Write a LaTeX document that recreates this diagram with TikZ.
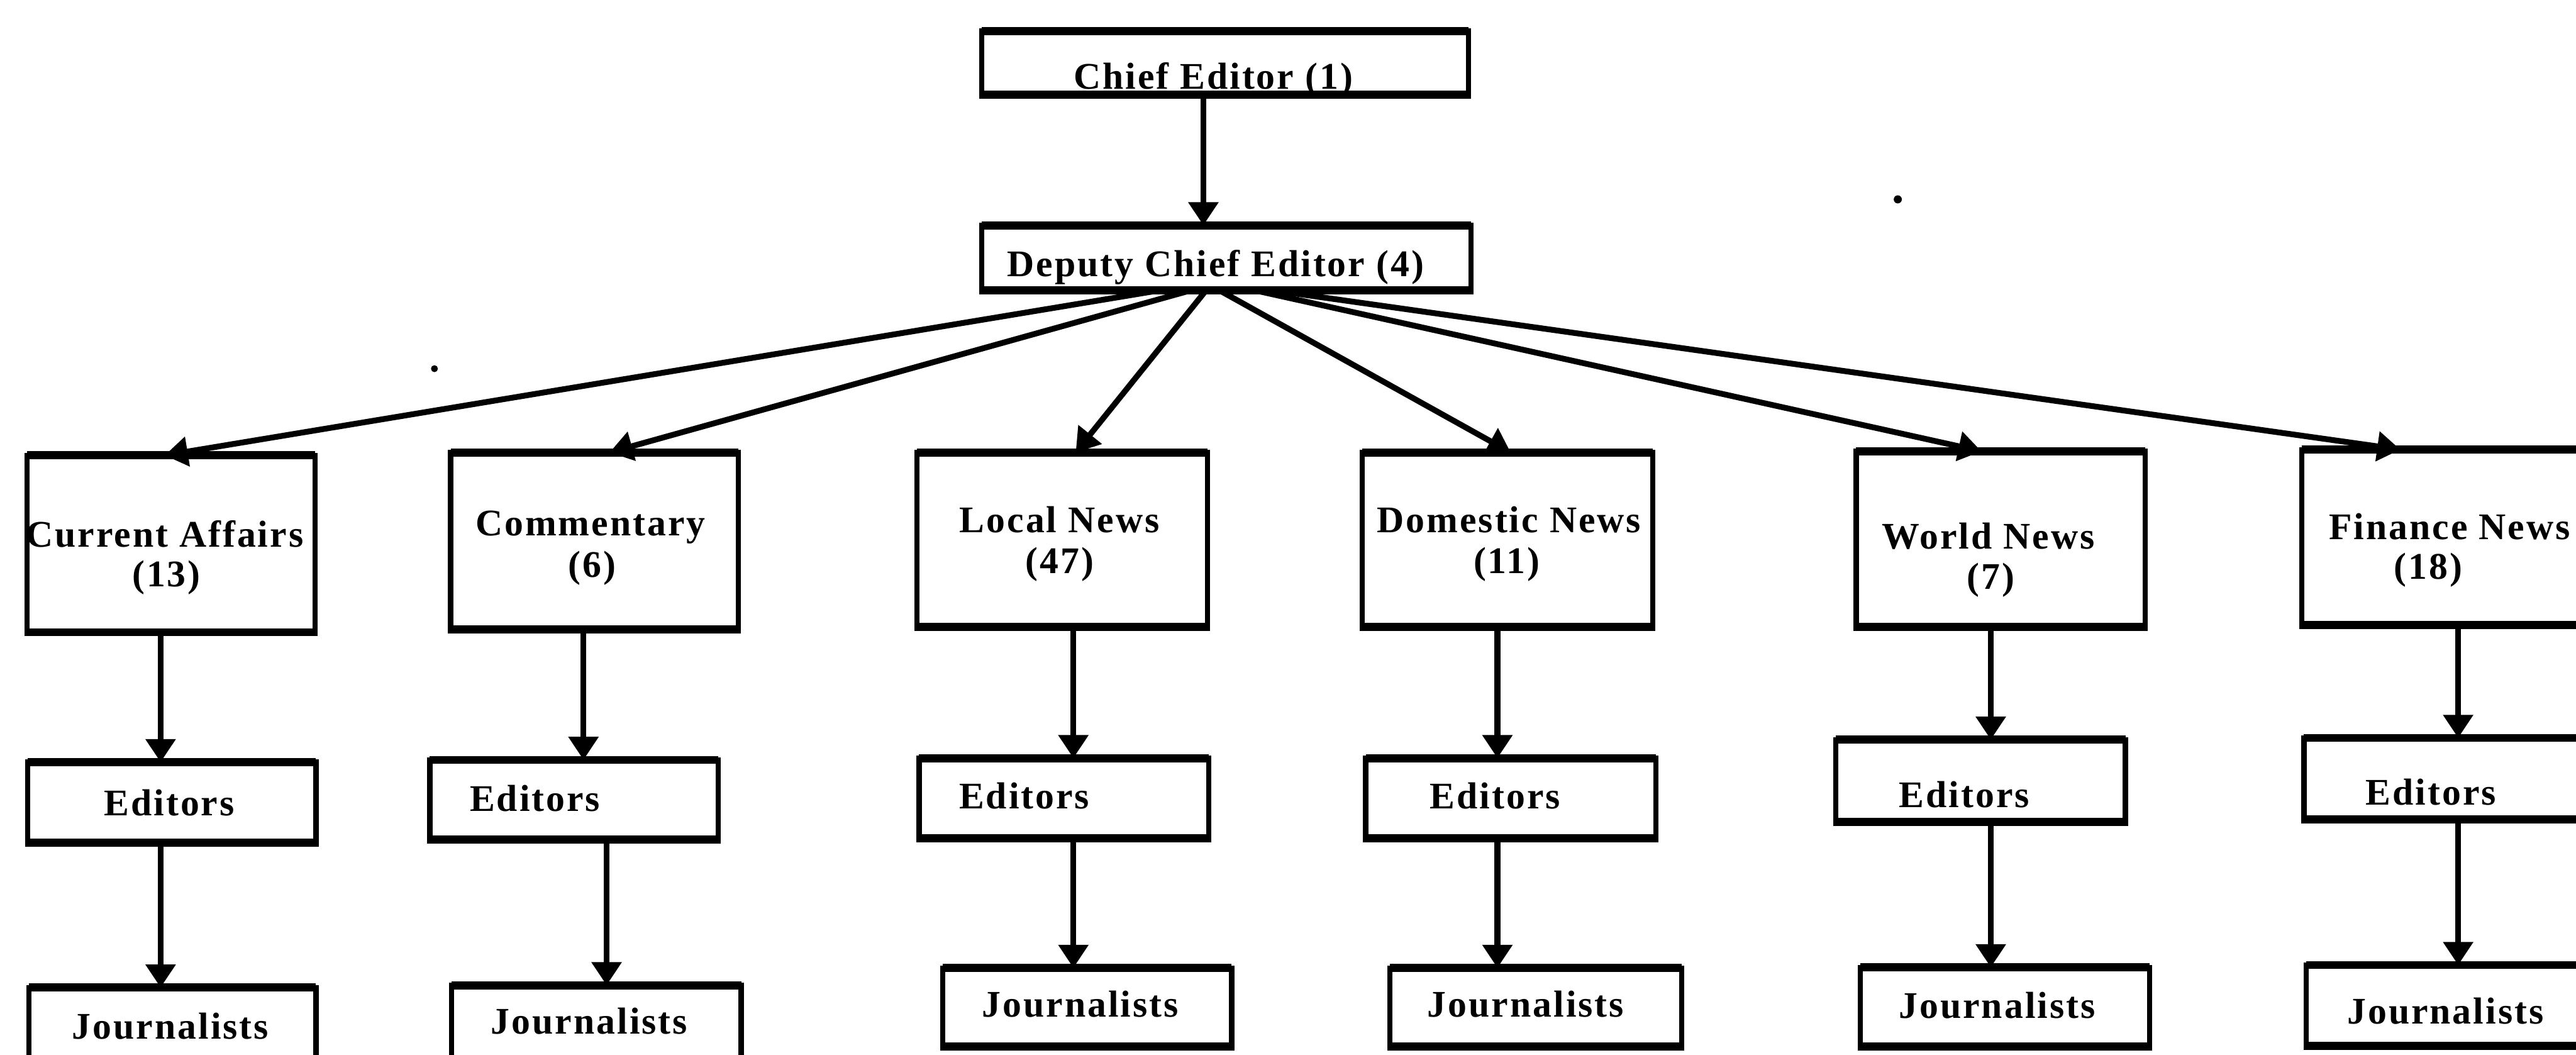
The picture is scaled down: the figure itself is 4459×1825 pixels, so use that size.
\documentclass[tikz,border=0pt]{standalone}
\usepackage{fontspec}
\setmainfont{Liberation Serif}[LetterSpace=5]
\usetikzlibrary{arrows.meta}

% box: name, left, right, top, bottom (pixel units, y grows downwards)
\newcommand\mkbox[5]{%
  \node[box, minimum width={(#3-#2)*0.01cm}, minimum height={(#5-#4)*0.01cm}]
    (#1) at ({(#2+#3)/2},{(#4+#5)/2}) {};
  \draw[rim] (#1.north west) -- (#1.north east)
             (#1.south west) -- (#1.south east);}

\begin{document}
\begin{tikzpicture}[x=0.01cm,y=-0.01cm,
  box/.style={draw, line width=0.09cm, inner sep=0pt, outer sep=0pt},
  rim/.style={line width=0.14cm, shorten <=-0.045cm, shorten >=-0.045cm},
  link/.style={line width=0.1cm, -{Triangle[width=0.5cm,length=0.4cm]}},
  lbl/.style={font=\bfseries\fontsize{18.5}{20}\selectfont, inner sep=0pt,
              text height=0.44cm, text depth=0pt}]
\useasboundingbox (0,0) rectangle (4459,1825);
\clip (0,0) rectangle (4459,1825);

% top of the hierarchy
\mkbox{chief}{1699}{2542}{54}{164}
\mkbox{dep}{1699}{2546}{390}{502}

% departments
\mkbox{ca}{47}{545}{788}{1094}
\mkbox{comm}{780}{1278}{783}{1089}
\mkbox{local}{1587}{2090}{783}{1085}
\mkbox{dom}{2358}{2861}{783}{1085}
\mkbox{world}{3213}{3713}{781}{1085}
\mkbox{fin}{3984}{4487}{778}{1082}

% editors
\mkbox{ed1}{48}{547}{1319}{1458}
\mkbox{ed2}{744}{1243}{1315}{1453}
\mkbox{ed3}{1591}{2092}{1312}{1451}
\mkbox{ed4}{2364}{2866}{1312}{1451}
\mkbox{ed5}{3178}{3679}{1280}{1422}
\mkbox{ed6}{3988}{4490}{1277}{1418}

% journalists
\mkbox{jo1}{50}{547}{1709}{1860}
\mkbox{jo2}{782}{1283}{1705}{1860}
\mkbox{jo3}{1632}{2132}{1675}{1811}
\mkbox{jo4}{2406}{2911}{1675}{1811}
\mkbox{jo5}{3220}{3721}{1674}{1811}
\mkbox{jo6}{3992}{4495}{1670}{1810}

% labels
\node[lbl] (chief-t) at (2100,132) {Chief Editor (1)};
\node[lbl] (dep-t) at (2104,456) {Deputy Chief Editor (4)};
\node[lbl] (ca-t1) at (285,925) {Current Affairs};
\node[lbl] (ca-t2) at (288,993) {(13)};
\node[lbl] (comm-t1) at (1022,905) {Commentary};
\node[lbl] (comm-t2) at (1025,977) {(6)};
\node[lbl] (local-t1) at (1834,900) {Local News};
\node[lbl] (local-t2) at (1834,970) {(47)};
\node[lbl] (dom-t1) at (2612,900) {Domestic News};
\node[lbl] (dom-t2) at (2608,970) {(11)};
\node[lbl] (world-t1) at (3442,928) {World News};
\node[lbl] (world-t2) at (3446,998) {(7)};
\node[lbl, anchor=west] (fin-t1) at (4031,912) {Finance News};
\node[lbl] (fin-t2) at (4203,980) {(18)};
\node[lbl] (ed1-t) at (293,1389) {Editors};
\node[lbl] (ed2-t) at (926,1382) {Editors};
\node[lbl] (ed3-t) at (1773,1377) {Editors};
\node[lbl] (ed4-t) at (2588,1377) {Editors};
\node[lbl] (ed5-t) at (3400,1375) {Editors};
\node[lbl] (ed6-t) at (4208,1371) {Editors};
\node[lbl] (jo1-t) at (295,1776) {Journalists};
\node[lbl] (jo2-t) at (1020,1767) {Journalists};
\node[lbl] (jo3-t) at (1870,1738) {Journalists};
\node[lbl] (jo4-t) at (2641,1738) {Journalists};
\node[lbl] (jo5-t) at (3457,1740) {Journalists};
\node[lbl] (jo6-t) at (4233,1750) {Journalists};

% connectors
\draw[link] (chief.south -| 2083,0) -- (dep.north -| 2083,0);

\draw[link] (dep.south -| 2010,0) -- (ca.north -| 285,0);
\draw[link] (dep.south -| 2063,0) -- (comm.north -| 1055,0);
\draw[link] (dep.south -| 2088,0) -- (local.north -| 1862,0);
\draw[link] (dep.south -| 2110,0) -- (dom.north -| 2615,0);
\draw[link] (dep.south -| 2170,0) -- (world.north -| 3430,0);
\draw[link] (dep.south -| 2200,0) -- (fin.north -| 4155,0);

\draw[link] (ca.south -| 278,0) -- (ed1.north -| 278,0);
\draw[link] (comm.south -| 1010,0) -- (ed2.north -| 1010,0);
\draw[link] (local.south -| 1858,0) -- (ed3.north -| 1858,0);
\draw[link] (dom.south -| 2592,0) -- (ed4.north -| 2592,0);
\draw[link] (world.south -| 3446,0) -- (ed5.north -| 3446,0);
\draw[link] (fin.south -| 4255,0) -- (ed6.north -| 4255,0);

\draw[link] (ed1.south -| 278,0) -- (jo1.north -| 278,0);
\draw[link] (ed2.south -| 1050,0) -- (jo2.north -| 1050,0);
\draw[link] (ed3.south -| 1858,0) -- (jo3.north -| 1858,0);
\draw[link] (ed4.south -| 2592,0) -- (jo4.north -| 2592,0);
\draw[link] (ed5.south -| 3446,0) -- (jo5.north -| 3446,0);
\draw[link] (ed6.south -| 4255,0) -- (jo6.north -| 4255,0);

% specks
\fill (752,638) circle (6);
\fill (3285,345) circle (7);
\end{tikzpicture}
\end{document}
